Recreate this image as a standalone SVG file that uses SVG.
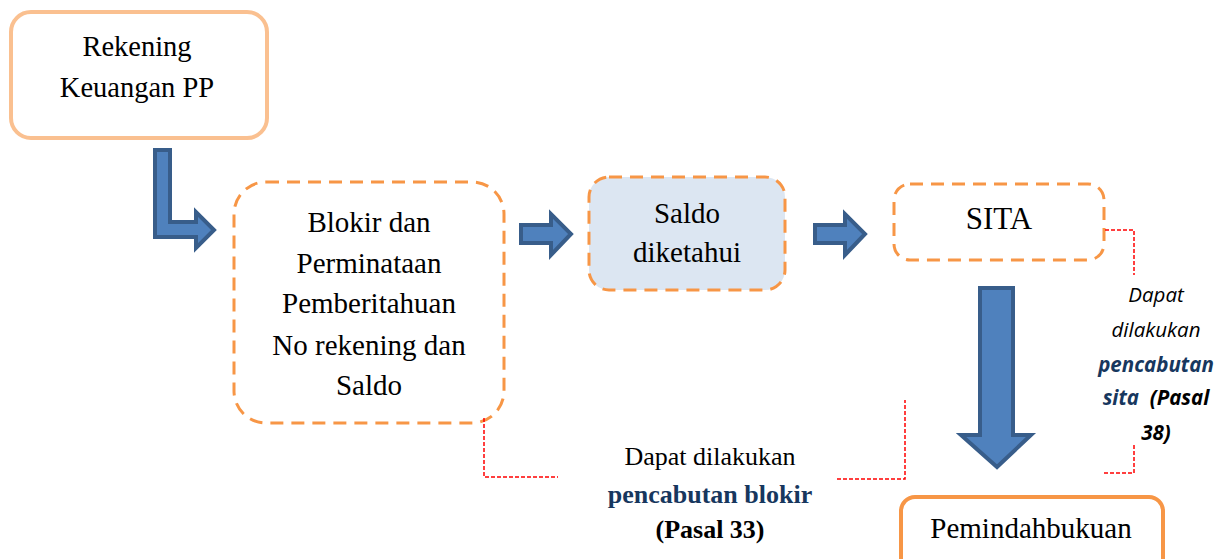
<svg xmlns="http://www.w3.org/2000/svg" width="1223" height="559" viewBox="0 0 1223 559">
<style>
.serif{fill:#000;text-anchor:middle}
.dash{fill:none;stroke:#F79646;stroke-width:3;stroke-dasharray:13 8}
.arrow{fill:#4F81BD;stroke:#385D8A;stroke-width:4;stroke-linejoin:miter}
.red{fill:none;stroke:#FF0000;stroke-width:1.5;stroke-dasharray:4 2}
.it{font-style:italic;font-size:20.5px;text-anchor:middle;fill:#000}
.blue{fill:#17375E;font-weight:bold}
</style>
<rect width="1223" height="559" fill="#fff"/>
<g font-family="'Liberation Serif', 'Times New Roman', 'DejaVu Serif', serif">
<g id="rekening">
<rect x="11" y="12" width="256" height="126" rx="20" fill="#fff" stroke="#FAC090" stroke-width="4"/>
<text class="serif" x="137" y="56" font-size="28.5">Rekening</text>
<text class="serif" x="137" y="97" font-size="28.5">Keuangan PP</text>
</g>
<g id="blokir">
<rect class="dash" x="234" y="182" width="270" height="241" rx="32"/>
<text class="serif" x="369" y="232" font-size="29">Blokir dan</text>
<text class="serif" x="369" y="273" font-size="29">Perminataan</text>
<text class="serif" x="369" y="313" font-size="29">Pemberitahuan</text>
<text class="serif" x="369" y="355" font-size="29">No rekening dan</text>
<text class="serif" x="369" y="395" font-size="29">Saldo</text>
</g>
<g id="saldo">
<rect class="dash" x="589" y="177" width="196" height="113" rx="20" style="fill:#DCE6F2"/>
<text class="serif" x="687" y="223" font-size="29">Saldo</text>
<text class="serif" x="687" y="262" font-size="29">diketahui</text>
</g>
<g id="sita">
<rect class="dash" x="894" y="184" width="210" height="76" rx="16"/>
<text class="serif" x="999" y="229" font-size="31">SITA</text>
</g>
<g id="pemindahbukuan">
<rect x="901" y="497" width="262" height="80" rx="14" fill="#fff" stroke="#F79646" stroke-width="4"/>
<text class="serif" x="1031" y="538" font-size="29">Pemindahbukuan</text>
</g>
<g id="note-blokir">
<text class="serif" x="710" y="465" font-size="26">Dapat dilakukan</text>
<text class="serif" x="710" y="503" font-size="26" font-weight="bold" style="fill:#17375E">pencabutan blokir</text>
<text class="serif" x="710" y="538" font-size="26" font-weight="bold">(Pasal 33)</text>
</g>
</g>
<g id="note-sita" font-family="'Open Sans', Lato, 'Liberation Sans', sans-serif">
<text class="it" x="1156" y="302">Dapat</text>
<text class="it" x="1156" y="337">dilakukan</text>
<text class="it blue" x="1156" y="372">pencabutan</text>
<text class="it" x="1156" y="405" font-weight="bold" xml:space="preserve"><tspan class="blue">sita</tspan>  (Pasal</text>
<text class="it" x="1156" y="440" font-weight="bold">38)</text>
</g>
<g id="connectors">
<path class="arrow" d="M155,150 H170 V222 H196 V212 L214,230 L196,248 V237 H155 Z"/>
<path class="arrow" d="M521,225 H551 V214 L571,234 L551,255 V243 H521 Z"/>
<path class="arrow" d="M815,225 H845 V214 L865,234 L845,255 V243 H815 Z"/>
<path class="arrow" d="M980,288 H1013 V435 H1031 L997,467 L961,435 H980 Z"/>
<path class="red" d="M1105,230 H1134 V275"/>
<path class="red" d="M1134,445 V473 H1103"/>
<path class="red" d="M484,418 V477 H558"/>
<path class="red" d="M837,479 H905 V400"/>
</g>
</svg>
